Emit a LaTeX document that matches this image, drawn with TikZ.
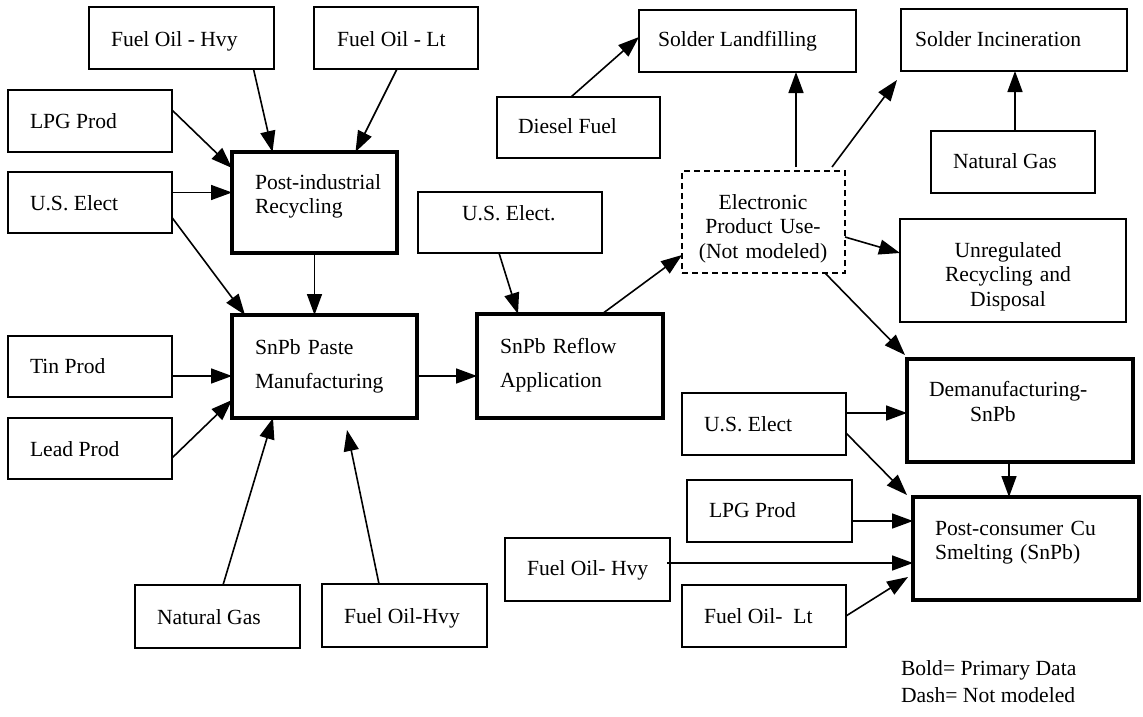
\documentclass[tikz,border=0pt]{standalone}
\usepackage{fontspec}
\setmainfont{Liberation Serif}
\usetikzlibrary{arrows.meta}

\tikzset{
  boxline/.style={draw=black, inner sep=0pt, outer sep=0pt, line width=1.9pt},
  thinbox/.style={boxline},
  boldbox/.style={boxline, line width=3.8pt},
  dashbox/.style={boxline, line width=2.6pt, dash pattern=on 6pt off 4pt},
  lbl/.style={inner sep=0pt, outer sep=0pt, anchor=base west,
              font=\fontsize{21.6}{24.5}\selectfont},
  lblm/.style={lbl, text width=260pt, align=left},
  lblwide/.style={lblm, font=\fontsize{21.6}{34}\selectfont},
  lblc/.style={inner sep=0pt, outer sep=0pt, anchor=base, text width=220pt,
               align=center, font=\fontsize{21.6}{24.5}\selectfont},
  flow/.style={line width=1.6pt, -{Triangle[length=21pt,width=15pt]}},
}

% box from corner (x1,y1) to corner (x2,y2)
\newcommand\boxat[6]{%
  \node[#6, minimum width={#4-#2}, minimum height={#5-#3}] (#1)
    at ({(#2+#4)/2},{(#3+#5)/2}) {};}

\begin{document}
\begin{tikzpicture}[x=1pt, y=-1pt]
\useasboundingbox (0,0) rectangle (1143,717);

% ---- left side: inputs and paste manufacturing
\boxat{FOH1}{89}{7}{274}{69}{thinbox}
\boxat{FOL1}{314}{7}{478}{69}{thinbox}
\boxat{LPG1}{8}{90}{172}{152}{thinbox}
\boxat{USE1}{8}{172}{172}{233}{thinbox}
\boxat{PIR}{232}{152}{397}{253}{boldbox}
\boxat{TIN}{8}{336}{172}{397}{thinbox}
\boxat{LEAD}{8}{418}{172}{479}{thinbox}
\boxat{SPM}{232}{315}{417}{418}{boldbox}
\boxat{NG1}{135}{585}{300}{648}{thinbox}
\boxat{FOH2}{322}{584}{487}{647}{thinbox}

% ---- middle
\boxat{USE2}{418}{192}{602}{253}{thinbox}
\boxat{DSL}{497}{97}{660}{158}{thinbox}
\boxat{SLF}{639}{10}{856}{72}{thinbox}
\boxat{EPU}{682}{171}{845}{273}{dashbox}
\boxat{RFL}{477}{314}{663}{418}{boldbox}

% ---- right side: end of life
\boxat{SIN}{901}{9}{1127}{71}{thinbox}
\boxat{NG2}{931}{131}{1095}{193}{thinbox}
\boxat{UNR}{900}{219}{1126}{322}{thinbox}
\boxat{USE3}{682}{393}{846}{455}{thinbox}
\boxat{DMF}{907}{359}{1133}{462}{boldbox}
\boxat{LPG2}{687}{480}{852}{542}{thinbox}
\boxat{PCS}{913}{497}{1139}{600}{boldbox}
\boxat{FOH3}{505}{538}{670}{601}{thinbox}
\boxat{FOL3}{682}{585}{846}{647}{thinbox}

% ---- box texts
\node[lbl] (tFOH1) at (111,47) {Fuel Oil - Hvy};
\node[lbl] (tFOL1) at (337,47) {Fuel Oil - Lt};
\node[lbl] (tLPG1) at (30,128) {LPG Prod};
\node[lbl] (tUSE1) at (30,210) {U.S. Elect};
\node[lblm] (tPIR) at (255,189) {Post-industrial\\Recycling};
\node[lbl] (tTIN) at (30,373) {Tin Prod};
\node[lbl] (tLEAD) at (30,456) {Lead Prod};
\node[lblwide] (tSPM) at (255,354) {SnPb Paste\\Manufacturing};
\node[lbl] (tNG1) at (157,624) {Natural Gas};
\node[lbl] (tFOH2) at (344,623) {Fuel Oil-Hvy};
\node[lbl] (tUSE2) at (462,220) {U.S. Elect.};
\node[lbl] (tDSL) at (518,133) {Diesel Fuel};
\node[lbl] (tSLF) at (658,47) {Solder Landfilling};
\node[lblc] (tEPU) at (763,209) {Electronic\\Product Use-\\(Not modeled)};
\node[lblwide] (tRFL) at (500,353) {SnPb Reflow\\Application};
\node[lbl] (tSIN) at (915,47) {Solder Incineration};
\node[lbl] (tNG2) at (953,168) {Natural Gas};
\node[lblc] (tUNR) at (1008,257) {Unregulated\\Recycling and\\Disposal};
\node[lbl] (tUSE3) at (704,431) {U.S. Elect};
\node[lbl] (tDMF1) at (929,396) {Demanufacturing-};
\node[lbl] (tDMF2) at (970,421) {SnPb};
\node[lbl] (tLPG2) at (709,517) {LPG Prod};
\node[lblm] (tPCS) at (935,535) {Post-consumer Cu\\Smelting (SnPb)};
\node[lbl] (tFOH3) at (527,575) {Fuel Oil- Hvy};
\node[lbl] (tFOL3) at (704,623) {Fuel Oil-\ \ Lt};

% ---- key
\node[lbl] (key1) at (901,675) {Bold= Primary Data};
\node[lbl] (key2) at (901,702) {Dash= Not modeled};

% ---- flows into post-industrial recycling and paste manufacturing
\draw[flow] ([xshift=72pt]FOH1.south) -- ([xshift=-42pt]PIR.north);
\draw[flow] ([xshift=1pt]FOL1.south) -- ([xshift=41pt]PIR.north);
\draw[flow] ([yshift=11pt]LPG1.east) -- ([yshift=-16pt]PIR.north west);
\draw[flow] ([yshift=10pt]USE1.east) -- ([yshift=10pt]USE1.east -| PIR.west);
\draw[flow] ([yshift=-15pt]USE1.east) -- ([xshift=13pt]SPM.north west);
\draw[flow] (PIR.south) -- (PIR.south |- SPM.north);
\draw[flow] ([yshift=-9.5pt]TIN.east) -- ([yshift=-9.5pt]TIN.east -| SPM.west);
\draw[flow] ([yshift=-9.5pt]LEAD.east) -- ([yshift=18pt]SPM.south west);
\draw[flow] ([xshift=5.5pt]NG1.north) -- ([xshift=-51.5pt]SPM.south);
\draw[flow] ([xshift=-25.5pt]FOH2.north) -- ([xshift=22.5pt,yshift=-12pt]SPM.south);

% ---- reflow and use phase
\draw[flow] ([yshift=-9.5pt]SPM.east) -- ([yshift=-9.5pt]SPM.east -| RFL.west);
\draw[flow] ([xshift=-11pt]USE2.south) -- ([xshift=-52pt]RFL.north);
\draw[flow] ([xshift=32pt]RFL.north) -- ([yshift=18pt]EPU.south west);

% ---- end of life
\draw[flow] ([xshift=32.5pt,yshift=4pt]EPU.north) -- ([xshift=32.5pt]EPU.north |- SLF.south);
\draw[flow] ([xshift=-7.5pt]DSL.north) -- ([yshift=4pt]SLF.west);
\draw[flow] ([xshift=-13pt,yshift=4pt]EPU.north east) -- ([xshift=-4pt,yshift=-9pt]SIN.south west);
\draw[flow] ([xshift=2pt]NG2.north) -- ([xshift=2pt]NG2.north |- SIN.south);
\draw[flow] ([yshift=-15pt]EPU.east) -- ([yshift=17.5pt]UNR.west);
\draw[flow] ([xshift=-20pt]EPU.south east) -- ([xshift=-2pt,yshift=4pt]DMF.north west);
\draw[flow] ([yshift=11pt]USE3.east) -- ([yshift=11pt]USE3.east -| DMF.west);
\draw[flow] ([yshift=-9pt]USE3.east) -- ([xshift=-6pt,yshift=2pt]PCS.north west);
\draw[flow] ([xshift=-11pt]DMF.south) -- ([xshift=-11pt]DMF.south |- PCS.north);
\draw[flow] ([yshift=-10pt]LPG2.east) -- ([yshift=-10pt]LPG2.east -| PCS.west);
\draw[flow] ([xshift=-3pt,yshift=6.5pt]FOH3.east) -- ([yshift=6.5pt]FOH3.east -| PCS.west);
\draw[flow] (FOL3.east) -- ([xshift=-5pt,yshift=23pt]PCS.south west);
\end{tikzpicture}
\end{document}
